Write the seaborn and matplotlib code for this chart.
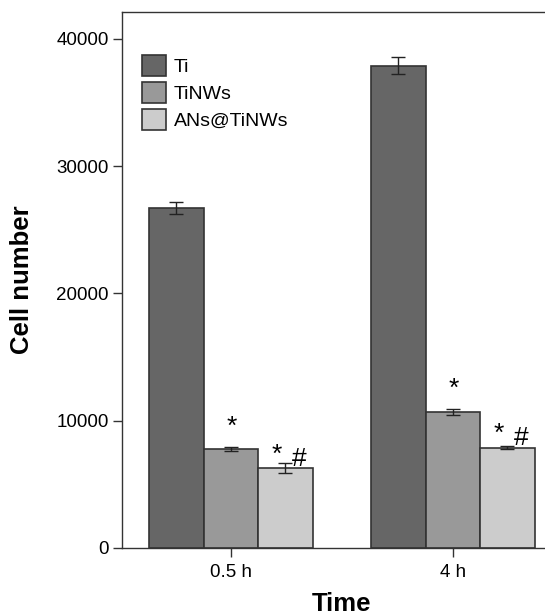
import numpy as np
import pandas as pd
import matplotlib
matplotlib.use('Agg')
import matplotlib.pyplot as plt
import seaborn as sns

# data
times = ['0.5 h', '4 h']
groups = ['Ti', 'TiNWs', 'ANs@TiNWs']
ti_mean = [26720, 37880]
ti_err = [480, 680]
tinws_mean = [7780, 10660]
tinws_err = [170, 240]
ans_mean = [6300, 7890]
ans_err = [380, 90]
colors = ['#666666', '#999999', '#cccccc']

means = [ti_mean, tinws_mean, ans_mean]
errs = [ti_err, tinws_err, ans_err]
df = pd.DataFrame({
    'Time': times * 3,
    'Group': [g for g in groups for _ in times],
    'Cell number': ti_mean + tinws_mean + ans_mean,
})

sns.set_style('ticks')
plt.rcParams['font.family'] = ['Liberation Sans', 'DejaVu Sans']
plt.rcParams['text.color'] = 'black'
plt.rcParams['axes.labelcolor'] = 'black'
plt.rcParams['xtick.color'] = 'black'
plt.rcParams['ytick.color'] = 'black'

fig = plt.figure(figsize=(5.45, 6.16), dpi=100)
ax = fig.add_axes([0.2239, 0.1104, 0.8066, 0.8701])

sns.barplot(data=df, x='Time', y='Cell number', hue='Group', order=times,
            hue_order=groups, palette=colors, width=0.736, edgecolor='#333333',
            linewidth=1.2, saturation=1, errorbar=None, ax=ax)

# error bars and significance marks on each bar
bar_conts = list(ax.containers)
for i, cont in enumerate(bar_conts):
    xs = [p.get_x() + p.get_width() / 2 for p in cont.patches]
    ax.errorbar(xs, means[i], yerr=errs[i], fmt='none', ecolor='#222222',
                elinewidth=1, capsize=4.7, capthick=1, zorder=5)
    for x, m, e in zip(xs, means[i], errs[i]):
        if i == 1:
            ax.annotate('*', (x, m + e), xytext=(1, 6), textcoords='offset points',
                        ha='center', va='bottom', fontsize=19)
        elif i == 2:
            ax.annotate('*', (x, m), xytext=(-6, 1), textcoords='offset points',
                        ha='center', va='bottom', fontsize=19)
            ax.annotate('#', (x, m), xytext=(10, -2), textcoords='offset points',
                        ha='center', va='bottom', fontsize=19)

ax.set_ylim(0, 42100)
ax.set_xlim(-0.49, 1.49)
ax.set_yticks([0, 10000, 20000, 30000, 40000])
ax.tick_params(axis='both', labelsize=13.5, direction='out', length=6.5,
               width=1, color='#333333', pad=3)
ax.tick_params(axis='x', pad=5)
ax.set_xlabel('Time', fontsize=18.5, fontweight='bold', labelpad=8)
ax.set_ylabel('Cell number', fontsize=18.5, fontweight='bold', labelpad=16)
for s in ax.spines.values():
    s.set_color('#333333')
    s.set_linewidth(1)

leg = ax.legend(loc='upper left', bbox_to_anchor=(0.045, 0.92), frameon=False,
                fontsize=14, handlelength=1.24, handleheight=1.29,
                handletextpad=0.4, labelspacing=0.31, borderpad=0,
                borderaxespad=0)

fig.savefig('out.png', dpi=100)
